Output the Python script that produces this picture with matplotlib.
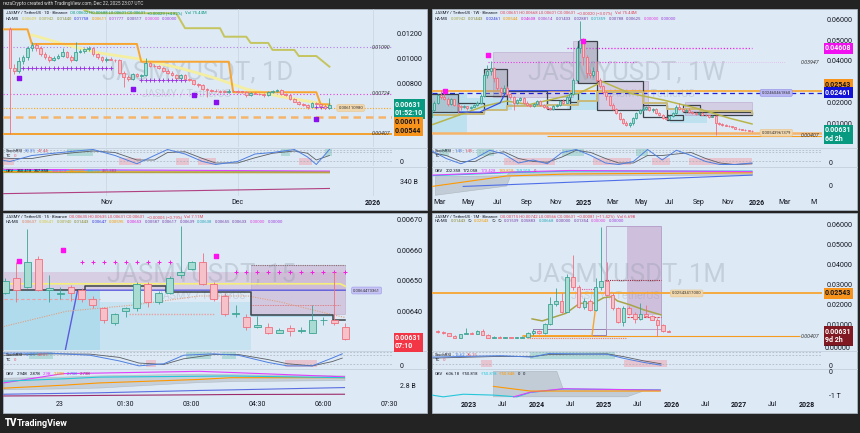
import numpy as np
import pandas as pd
import matplotlib
matplotlib.use("Agg")
import matplotlib.pyplot as plt
import matplotlib.dates as mdates
import matplotlib.transforms as mtrans
from matplotlib.patches import Rectangle

plt.rcParams["font.family"] = ["Roboto", "DejaVu Sans"]

# ---------------- 1D panel: daily candles from Oct 10 2025 (prices in 1e-5 USDT)
d1_start = "2025-10-10"
d1_open = [1230, 925, 905, 980, 1010, 1080, 1110, 1085, 1035, 1010, 985, 1008, 1020, 1050, 1015, 985, 1052, 1060,
           1072, 1080, 1032, 1012, 985, 1000, 992, 985, 885, 855, 840, 878, 865, 870, 962, 945, 940, 925, 905, 890,
           872, 850, 868, 840, 830, 800, 790, 762, 752, 745, 742, 740, 738, 745, 742, 740, 738, 712, 730, 725, 722,
           712, 738, 748, 752, 722, 712, 685, 662, 645, 635, 622, 648, 640, 628, 611]
d1_high = [1250, 960, 1010, 1030, 1100, 1130, 1125, 1095, 1050, 1025, 1020, 1035, 1080, 1060, 1025, 1130, 1075, 1085,
           1095, 1090, 1045, 1020, 1010, 1010, 1000, 995, 900, 870, 890, 885, 880, 1005, 975, 960, 950, 935, 915, 900,
           880, 880, 875, 850, 835, 810, 800, 770, 760, 760, 755, 750, 760, 752, 750, 748, 742, 740, 738, 732, 728,
           745, 755, 760, 758, 730, 718, 692, 668, 650, 640, 655, 655, 646, 634, 690]
d1_low = [407, 880, 890, 960, 990, 1060, 1060, 1020, 995, 975, 980, 1000, 1010, 1005, 975, 980, 1040, 1045, 1060,
          1020, 1000, 975, 975, 985, 975, 875, 780, 820, 830, 855, 850, 860, 935, 930, 915, 895, 880, 865, 840, 845,
          830, 820, 790, 780, 755, 700, 740, 735, 732, 730, 730, 735, 732, 730, 700, 708, 718, 715, 700, 705, 730,
          740, 715, 705, 675, 655, 638, 628, 600, 615, 635, 620, 605, 608]
d1_close = [925, 905, 980, 1010, 1080, 1110, 1085, 1035, 1010, 985, 1008, 1020, 1050, 1015, 985, 1052, 1060, 1072,
            1080, 1032, 1012, 985, 1000, 992, 985, 885, 855, 840, 878, 865, 870, 962, 945, 940, 925, 905, 890, 872,
            850, 868, 840, 830, 800, 790, 762, 752, 745, 742, 740, 738, 745, 742, 740, 738, 712, 730, 725, 722, 712,
            738, 748, 752, 722, 712, 685, 662, 645, 635, 622, 648, 640, 628, 611, 631]
# indicator lines (day offsets from d1_start, prices 1e-5)
d1_trail_day = [-2, 4, 5, 29, 30, 50, 51, 70, 71, 73]
d1_trail_val = [1230, 1230, 1115, 1115, 975, 975, 735, 735, 640, 640]
d1_upper_day = [17, 19, 38, 40, 48, 49, 54, 55, 59, 60, 65, 66, 70, 73]
d1_upper_val = [1380, 1357, 1357, 1239, 1239, 1172, 1172, 1123, 1123, 1068, 1068, 1020, 1020, 936]
d1_ma_day = [5, 13, 20, 29, 39, 47, 54, 62, 70, 73]
d1_ma_val = [1186, 1107, 1046, 1000, 924, 845, 760, 700, 653, 627]
d1_pivot_day = [2, 28, 42, 47, 70]
d1_pivot_val = [845, 758, 713, 661, 524]
d1_cross_rows = [(2, 23, 925, "#9b30e0"), (30, 40, 834, "#9b30e0"), (70, 73, 620, "#9b30e0")]
d1_stoch_day = [-2, 0, 5, 10, 15, 19, 24, 29, 33, 36, 40, 44, 47, 52, 56, 60, 65, 68, 70, 73]
d1_stoch_k = [30, 20, 60, 75, 90, 100, 60, 5, 60, 100, 70, 20, 0, 20, 70, 80, 100, 50, 0, 100]
d1_stoch_d = [45, 40, 40, 65, 80, 90, 80, 30, 30, 80, 85, 40, 10, 10, 45, 75, 90, 75, 30, 60]
d1_band_pink = [(-2, 1), (25, 30), (38, 41), (43, 47), (66, 69)]
d1_band_teal = [(13, 19), (62, 64), (72, 73.5)]
d1_obv_day = [-2, 73]
d1_obv_lines = {"#26c6da": [88, 84], "#e040fb": [92, 86], "#ff9800": [84, 82], "#b0a040": [81, 80],
                "#b04080": [8, 26]}

# ---------------- 1W panel: weekly candles from Feb 12 2024
w1_start = "2024-02-12"
w1_open = [1300, 1650, 2000, 2350, 2250, 2180, 1950, 2150, 1900, 1850, 1780, 1820, 1750, 1800, 1900, 2000, 2300,
           3300, 3500, 3650, 3200, 2700, 2500, 2700, 2400, 2250, 2000, 2100, 2200, 2000, 1900, 1850, 1950, 2050,
           1900, 1800, 1750, 1700,
           1850, 1900, 2050, 2000, 2250, 2400, 3100, 4600, 5000, 4200, 3400, 3300, 3500, 3100, 2800, 2500, 2300,
           1900, 1700, 1500, 1200, 1000, 900, 1000, 1250, 1500, 1650, 1700, 1800, 1650, 1700, 1500, 1400, 1250,
           1200, 1350, 1500, 1800, 1700, 1600, 1650, 1550, 1500, 1450, 1500, 1420, 1380, 1300, 1350, 1000, 950,
           900, 880, 850, 800, 740, 720, 700, 680, 650]
w1_high = [1700, 2050, 2400, 2620, 2560, 2250, 2200, 2180, 1980, 1900, 1900, 1850, 1850, 1950, 2050, 2400, 3400,
           3800, 4000, 3700, 3250, 2750, 2850, 2800, 2450, 2300, 2150, 2250, 2250, 2050, 1950, 2000, 2100, 2100,
           1950, 1850, 1800, 1900,
           1950, 2100, 2150, 2300, 2500, 3200, 4700, 5900, 5100, 4300, 3600, 3700, 4000, 3200, 2850, 2550, 2350,
           2000, 1750, 1550, 1250, 1100, 1050, 1300, 1550, 1700, 1850, 1850, 1850, 1750, 1750, 1550, 1450, 1300,
           1400, 1550, 1900, 2000, 1750, 1700, 1750, 1600, 1550, 1550, 1550, 1450, 1400, 1400, 1400, 1050, 1000,
           950, 900, 870, 820, 760, 740, 720, 700, 668]
w1_low = [1280, 1600, 1950, 2150, 2100, 1850, 1900, 1850, 1500, 1650, 1750, 1650, 1700, 1780, 1850, 1950, 2250,
          3200, 3300, 3000, 2600, 2300, 2450, 2350, 2150, 1650, 1950, 2050, 1950, 1850, 1800, 1800, 1900, 1850,
          1750, 1700, 1650, 1650,
          1800, 1850, 1950, 1980, 2200, 2350, 3000, 4400, 3800, 3200, 3200, 3250, 3000, 2700, 2400, 2100, 1850,
          1650, 1450, 1150, 950, 850, 840, 930, 1200, 1450, 1600, 1650, 1600, 1550, 1450, 1350, 1200, 1150, 1180,
          1300, 1450, 1650, 1550, 1550, 1500, 1450, 1400, 1400, 1400, 1350, 1250, 1280, 440, 900, 880, 850, 800,
          780, 720, 700, 660, 650, 630, 601]
w1_close = [1650, 2000, 2350, 2250, 2180, 1950, 2150, 1900, 1850, 1780, 1820, 1750, 1800, 1900, 2000, 2300, 3300,
            3500, 3650, 3200, 2700, 2500, 2700, 2400, 2250, 2000, 2100, 2200, 2000, 1900, 1850, 1950, 2050, 1900,
            1800, 1750, 1700, 1850,
            1900, 2050, 2000, 2250, 2400, 3100, 4600, 5000, 4200, 3400, 3300, 3500, 3100, 2800, 2500, 2300, 1900,
            1700, 1500, 1200, 1000, 900, 1000, 1250, 1500, 1650, 1700, 1800, 1650, 1700, 1500, 1400, 1250, 1200,
            1350, 1500, 1800, 1700, 1600, 1650, 1550, 1500, 1450, 1500, 1420, 1380, 1300, 1350, 1000, 950, 900,
            880, 850, 800, 740, 720, 700, 680, 650, 631]
w1_dark_boxes = [("2024-02-10", "2024-04-08", 1540, 2410), ("2024-04-08", "2024-06-04", 1540, 1970),
                 ("2024-06-04", "2024-07-21", 2300, 3600), ("2024-07-21", "2024-10-14", 1880, 2570),
                 ("2024-10-14", "2024-12-01", 1680, 2100), ("2024-12-01", "2024-12-18", 2040, 2460),
                 ("2024-12-18", "2025-01-28", 2940, 4970), ("2025-01-28", "2025-05-05", 1640, 3050),
                 ("2025-05-05", "2025-06-25", 1320, 1880), ("2025-06-25", "2025-07-29", 1160, 1400),
                 ("2025-07-29", "2025-09-03", 1540, 1880), ("2025-09-03", "2025-12-22", 1400, 1560)]
w1_dark_filled = [0, 2, 6]
w1_supply = [("2024-06-21", "2024-12-08", 2280, 4440), ("2024-12-08", "2025-01-28", 2940, 4970),
             ("2025-01-28", "2025-05-16", 1640, 3050), ("2025-08-02", "2025-12-22", 1400, 2040)]
w1_demand = [("2024-02-10", "2024-04-27", 500, 2460), ("2024-04-27", "2024-08-01", 1640, 2200),
             ("2024-11-25", "2025-02-03", 1640, 2460), ("2025-07-01", "2025-09-18", 1010, 1640)]
w1_ma_date = ["2024-02-14", "2024-06-04", "2024-07-21", "2024-09-07", "2024-12-22", "2025-02-09", "2025-04-08",
              "2025-06-17", "2025-08-28", "2025-11-05", "2025-12-22"]
w1_ma_val = [930, 1830, 2070, 1900, 2460, 3000, 2440, 2120, 1720, 1240, 970]
w1_step_date = ["2024-02-14", "2024-04-12", "2024-06-04", "2024-07-21", "2024-10-14", "2024-12-18", "2025-01-28",
                "2025-05-05", "2025-06-25", "2025-09-03", "2025-12-22"]
w1_step_val = [1410, 1450, 1650, 1850, 1900, 2050, 2500, 2000, 1700, 1600, 1450]
w1_blue_date = ["2024-04-12", "2024-05-25", "2024-07-07", "2024-07-21", "2024-12-01"]
w1_blue_val = [1540, 1540, 1980, 2570, 2570]
w1_pivot_date = ["2024-03-13", "2024-06-12", "2024-12-30"]
w1_pivot_val = [2550, 4270, 4960]
w1_stoch_date = ["2024-02-14", "2024-03-15", "2024-04-15", "2024-05-15", "2024-06-15", "2024-07-15", "2024-08-15",
                 "2024-09-15", "2024-10-15", "2024-11-15", "2024-12-15", "2025-01-15", "2025-02-15", "2025-03-15",
                 "2025-04-15", "2025-05-15", "2025-06-15", "2025-07-15", "2025-08-15", "2025-09-15", "2025-10-15",
                 "2025-11-15", "2025-12-22"]
w1_stoch_k = [90, 40, 5, 40, 95, 70, 10, 30, 5, 80, 100, 60, 10, 0, 20, 100, 30, 95, 60, 20, 0, 0, 10]
w1_stoch_d = [80, 60, 20, 20, 70, 85, 40, 20, 15, 50, 95, 80, 40, 10, 10, 60, 60, 70, 80, 40, 10, 0, 5]
w1_band_pink = [("2024-07-15", "2024-10-31"), ("2025-01-20", "2025-04-10"), ("2025-05-25", "2025-07-01"),
                ("2025-08-10", "2025-12-22")]
w1_band_teal = [("2024-03-01", "2024-03-20"), ("2024-05-20", "2024-06-25"), ("2024-11-15", "2024-12-31"),
                ("2025-04-20", "2025-05-15")]
w1_obv_band_date = ["2024-02-20", "2024-07-20", "2024-07-28", "2025-12-22"]
w1_obv_band_hi = [68, 72, 86, 84]
w1_obv_band_lo = [4, 36, 70, 74]
w1_obv_date = ["2024-02-14", "2024-07-21", "2024-12-01", "2025-12-22"]
w1_obv_lines = {"#ff9800": [33, 69, 76, 80], "#26c6da": [70, 80, 86, 86], "#e040fb": [72, 82, 88, 84]}
w1_obv_blue_date = ["2024-04-20", "2025-12-22"]
w1_obv_blue = [33, 72]

# ---------------- 15m panel (prices in 1e-6 USDT)
m15_start = "2025-12-22 22:45"
m15_open = [6460, 6510, 6480, 6570, 6470, 6455, 6480, 6470, 6440, 6410, 6360, 6400, 6410, 6490, 6430, 6460, 6520,
            6540, 6560, 6490, 6450, 6390, 6380, 6350, 6350, 6330, 6345, 6335, 6330, 6370, 6372, 6350]
m15_high = [6510, 6560, 6670, 6580, 6520, 6480, 6485, 6475, 6450, 6415, 6395, 6415, 6495, 6495, 6465, 6515, 6680,
            6565, 6590, 6495, 6460, 6420, 6390, 6385, 6360, 6345, 6355, 6350, 6420, 6380, 6530, 6360]
m15_low = [6455, 6430, 6475, 6465, 6430, 6440, 6435, 6430, 6410, 6360, 6355, 6380, 6400, 6415, 6425, 6455, 6510,
           6535, 6485, 6435, 6385, 6380, 6340, 6345, 6325, 6328, 6320, 6330, 6328, 6355, 6355, 6305]
m15_close = [6500, 6470, 6560, 6470, 6475, 6460, 6460, 6440, 6420, 6370, 6390, 6410, 6490, 6430, 6460, 6510, 6530,
             6560, 6490, 6440, 6390, 6395, 6350, 6355, 6330, 6340, 6335, 6338, 6370, 6372, 6362, 6310]
m15_yellow_t = ["22:43", "06:23", "06:30"]
m15_yellow = [6490, 6490, 6482]
m15_indigo_t = ["00:07", "00:24", "06:30"]
m15_indigo = [6270, 6469, 6469]
m15_step_t = ["22:43", "00:34", "00:34", "02:25", "02:25", "04:21", "04:21", "06:13", "06:13", "06:30"]
m15_step = [6469, 6469, 6482, 6482, 6462, 6462, 6389, 6389, 6370, 6370]
m15_ma_t = ["22:43", "00:09", "01:39", "03:10", "04:17", "05:02", "06:10", "06:29"]
m15_ma = [6350, 6400, 6420, 6450, 6450, 6430, 6390, 6380]
m15_pivot_t = ["23:04", "00:04", "03:33"]
m15_pivot = [6565, 6600, 6580]
m15_stoch_t = ["22:43", "23:46", "00:41", "01:21", "01:48", "02:22", "02:49", "03:30", "04:04", "04:44", "05:11",
               "05:45", "06:12", "06:26"]
m15_stoch_k = [95, 95, 80, 40, 5, 20, 80, 90, 80, 30, 5, 5, 60, 90]
m15_stoch_d = [80, 90, 88, 65, 25, 15, 55, 85, 85, 50, 20, 5, 35, 60]
m15_obv_t = ["22:43", "00:04", "00:54", "03:10", "03:54", "06:29"]
m15_obv_lines = {"#e040fb": [52, 84, 86, 92, 88, 73], "#ff9800": [34, 44, 52, 64, 70, 70],
                 "#26c6da": [58, 66, 72, 75, 76, 70], "#5b6ee1": [13, 16, 18, 26, 28, 36],
                 "#9c2a6a": [7, 8, 9, 11, 12, 13]}
m15_obv_hi = [70, 74, 78, 84, 82, 78]
m15_obv_lo = [30, 33, 36, 55, 58, 62]

# ---------------- 1M panel: monthly candles from Jul 2022 (prices in 1e-5 USDT)
mo_start = "2022-07-01"
mo_open = [650, 600, 550, 440, 320, 520, 580, 540, 670, 470, 340, 380, 340, 350, 330, 340, 380, 550, 670, 560, 1000,
           2000, 2170, 1630, 3380, 2880, 1880, 2170, 1720, 2880, 3170, 2470, 1800, 1100, 1800, 1500, 1270, 1500,
           1400, 1220, 970, 670]
mo_high = [720, 680, 580, 470, 540, 800, 620, 700, 780, 500, 420, 400, 380, 370, 360, 400, 600, 780, 720, 1050, 2380,
           2800, 2550, 3500, 4470, 2980, 2300, 2250, 3300, 5880, 4130, 2550, 1850, 1900, 1900, 1600, 2050, 1970,
           1450, 1300, 1020, 720]
mo_low = [560, 520, 420, 300, 300, 500, 520, 500, 460, 320, 320, 300, 320, 320, 320, 330, 370, 480, 520, 540, 950,
          1900, 1550, 1600, 2700, 1800, 1750, 1650, 1650, 2700, 2400, 1700, 1050, 900, 1450, 1050, 1200, 1350, 1200,
          400, 640, 600]
mo_close = [600, 550, 440, 320, 520, 580, 540, 670, 470, 340, 380, 340, 350, 330, 340, 380, 550, 670, 560, 1000,
            2000, 2170, 1630, 3380, 2880, 1880, 2170, 1720, 2880, 3170, 2470, 1800, 1100, 1800, 1500, 1270, 1500,
            1400, 1220, 970, 670, 631]
mo_ma_date = ["2023-12-08", "2024-02-01", "2024-06-08", "2024-08-21", "2024-11-03", "2024-12-29", "2025-02-14",
              "2025-03-13", "2025-05-22", "2025-08-04", "2025-11-04"]
mo_ma_val = [1270, 1170, 1550, 2050, 2050, 2330, 2380, 2170, 1970, 1720, 1470]
mo_orange_date = ["2023-10-21", "2024-10-27", "2024-11-17"]
mo_orange_val = [430, 430, 1970]
mo_stoch_date = ["2022-06-20", "2023-06-23", "2023-12-08", "2024-03-07", "2025-01-16", "2025-04-16", "2025-08-04",
                 "2025-11-04"]
mo_stoch_k = [67, 77, 67, 92, 87, 58, 29, 10]
mo_stoch_d = [60, 72, 70, 85, 90, 70, 40, 20]
mo_band_teal = [("2023-11-28", "2025-03-01")]
mo_band_pink = [("2023-03-09", "2023-05-03"), ("2025-04-16", "2025-12-05")]
mo_obv_poly_date = ["2023-05-13", "2024-04-20", "2024-05-26", "2025-10-31", "2025-10-31", "2025-08-01",
                    "2025-05-04", "2023-05-13"]
mo_obv_poly_val = [92, 92, 28, 28, 24, 24, 4, 4]
mo_obv_cyan_date = ["2022-06-15", "2022-08-15", "2022-12-01", "2023-05-13", "2023-09-17", "2023-11-28",
                    "2024-05-26", "2025-10-31"]
mo_obv_cyan = [10, 4, 13, 10, 4, 19, 31, 28]
mo_obv_mag_date = ["2023-08-30", "2023-11-28", "2024-05-26", "2025-10-31"]
mo_obv_mag = [4, 20, 32, 27]
mo_obv_orange_date = ["2023-05-13", "2023-11-28", "2025-10-31"]
mo_obv_orange = [40, 24, 24]

# ---------------- styling
W, H = 860, 433
BG = "#dde9f5"
TXT = "#131722"
UP_F, UP_E = "#a8dcd3", "#3aa394"
DN_F, DN_E = "#f6c1c8", "#ef6f7e"

fig = plt.figure(figsize=(8.6, 4.33), dpi=100, facecolor="#232323")


def px_axes(x0, y0, x1, y1):
    ax = fig.add_axes([x0 / W, 1 - y1 / H, (x1 - x0) / W, (y1 - y0) / H])
    ax.set_facecolor("none")
    for sp in ax.spines.values():
        sp.set_visible(False)
    ax.tick_params(length=0, labelsize=5, colors=TXT, pad=2)
    ax.set_xticks([])
    ax.set_yticks([])
    return ax


def ftext(x, y, s, **kw):
    kw.setdefault("va", "center")
    return fig.text(x / W, 1 - y / H, s, **kw)


def panel(x0, y0, x1, y1, cuts):
    fig.add_artist(Rectangle((x0 / W, 1 - y1 / H), (x1 - x0) / W, (y1 - y0) / H, transform=fig.transFigure,
                             facecolor=BG, edgecolor="#aab6c2", lw=0.6, zorder=-1))
    xr = x1 - 35
    for c in cuts[:2]:
        fig.add_artist(plt.Line2D([x0 / W, x1 / W], [1 - (c + 0.5) / H] * 2, color="#c3cfdb", lw=0.6, zorder=-1))
    pr = px_axes(x0, y0, xr, cuts[0])
    st = px_axes(x0, cuts[0] + 1, xr, cuts[1])
    ob = px_axes(x0, cuts[1] + 1, xr, cuts[2])
    pr.yaxis.tick_right()
    st.set_ylim(-10, 110)
    ob.set_ylim(0, 100)
    return pr, st, ob


def candles(ax, x, o, h, l, c, width, unit, minh):
    o, h, l, c = (np.asarray(v, float) * unit for v in (o, h, l, c))
    up = c >= o
    edge = np.where(up, UP_E, DN_E)
    ax.vlines(x, l, h, colors=edge, lw=0.6, zorder=5)
    ax.bar(x, np.maximum(np.abs(c - o), minh), width, bottom=np.minimum(o, c), color=np.where(up, UP_F, DN_F),
           edgecolor=edge, lw=0.6, zorder=6)


def box(ax, x0, x1, y0, y1, fc, ec="none", lw=0.8, alpha=1.0, z=2):
    ax.add_patch(Rectangle((x0, y0), x1 - x0, y1 - y0, facecolor=fc, edgecolor=ec, lw=lw, alpha=alpha, zorder=z))


def tag(ax, price, text, fc, dy=0, tc="white", fs=5.0):
    tr = mtrans.blended_transform_factory(ax.transAxes, ax.transData)
    ax.annotate(text, xy=(1, price), xycoords=tr, xytext=(2.2, dy), textcoords="offset points", fontsize=fs,
                color=tc, fontweight="bold", va="center", ha="left", linespacing=1.05, annotation_clip=False,
                bbox=dict(boxstyle="square,pad=0.22", fc=fc, ec="none"), zorder=30)


def line_note(ax, xfrac, price, text, fs=3.8, **kw):
    tr = mtrans.blended_transform_factory(ax.transAxes, ax.transData)
    ax.text(xfrac, price, text, transform=tr, fontsize=fs, va="center", ha="left", color="#333", zorder=25, **kw)


def badge(ax, xfrac, price, text, fc, ec):
    tr = mtrans.blended_transform_factory(ax.transAxes, ax.transData)
    ax.text(xfrac, price, text, transform=tr, fontsize=3.0, va="center", ha="left", color="#333", zorder=25,
            bbox=dict(boxstyle="round,pad=0.35", fc=fc, ec=ec, lw=0.4))


def legend(x, y, pieces, fs=3.1):
    r = fig.canvas.get_renderer()
    for s, col in pieces:
        t = ftext(x, y, s, fontsize=fs, color=col, ha="left")
        x += t.get_window_extent(r).width + 2.2


def xaxis(ax, ticks, labels, grid_axes):
    ax.set_xticks(ticks)
    ax.set_xticklabels(labels)
    for t, lab in zip(ax.get_xticklabels(), labels):
        if lab.isdigit() and len(lab) == 4:
            t.set_fontweight("bold")
    for g in grid_axes:
        for v in ticks:
            g.axvline(v, color="#c8d4e0", lw=0.5, zorder=0)


def watermark(ax, title, fx, fy, fs, sub_dx=0.01):
    ax.text(fx, fy, title, transform=ax.transAxes, fontsize=fs, color="#8f9aa6", alpha=0.32, ha="center",
            va="center", zorder=1)
    ax.text(fx + sub_dx, fy - 0.15, "JASMY / TetherUS", transform=ax.transAxes, fontsize=fs * 0.42,
            color="#8f9aa6", alpha=0.3, ha="center", va="center", zorder=1)


def stoch(ax, x, k, d, pink, teal):
    for a, b in pink:
        ax.fill_between([a, b], -5, 45, color="#f19aa6", alpha=0.45, lw=0, zorder=1)
    for a, b in teal:
        ax.fill_between([a, b], 55, 105, color="#7cc6bb", alpha=0.45, lw=0, zorder=1)
    for lv in (100, 80, 20):
        ax.axhline(lv, color="#9aa4ae", lw=0.4, ls=(0, (3, 3)), zorder=2)
    ax.plot(x, k, color="#4f7fe0", lw=0.7, zorder=4)
    ax.plot(x, d, color="#5a5f66", lw=0.6, zorder=3)


header = "rezaCrypto created with TradingView.com, Dec 22, 2025 23:07 UTC"
ftext(3, 4, header, fontsize=3.4, color="#d8d8d8", ha="left")

# ================= panel 1: 1D =================
pr, st, ob = panel(3, 9, 427, 210, (147, 166, 196))
t0 = mdates.date2num(pd.Timestamp(d1_start))
dx = t0 + np.arange(len(d1_close))
u = 1e-5
for a in (pr, st, ob):
    a.set_xlim(t0 - 1.6, t0 + 87.3)
pr.set_ylim(0.00304, 0.0139)
candles(pr, dx, d1_open, d1_high, d1_low, d1_close, 0.62, u, 0.00003)
pr.plot(t0 + np.array(d1_upper_day), np.array(d1_upper_val) * u, color="#c5c55f", lw=1.4, zorder=3)
pr.plot(t0 + np.array(d1_ma_day), np.array(d1_ma_val) * u, color="#f4efa0", lw=2.0, zorder=3)
pr.plot(t0 + np.array(d1_trail_day), np.array(d1_trail_val) * u, color="#f7a530", lw=1.4, zorder=4)
pr.axhline(0.01090, color="#b77ef0", lw=0.8, ls=(0, (1, 2)), zorder=2)
pr.axhline(0.00724, color="#e040e0", lw=0.8, ls=(0, (1, 2)), zorder=2)
pr.axhline(0.00611, color="#f5a623", lw=0.8, ls=(0, (1, 1.5)), zorder=2)
pr.axhline(0.00544, color="#f5b46a", lw=1.8, ls=(0, (3, 2)), zorder=2)
pr.axhline(0.00407, color="#f59b1e", lw=1.3, zorder=2)
for a, b, v, col in d1_cross_rows:
    sel = dx[(dx >= t0 + a) & (dx <= t0 + b)]
    pr.plot(sel, np.full(len(sel), v * u), ls=(0, (1, 1.5)), lw=0.6, color=col, marker="+", ms=2.5, mew=0.6,
            zorder=3)
pr.scatter(t0 + np.array(d1_pivot_day), np.array(d1_pivot_val) * u, s=7, marker="s", color="#8a10f0", zorder=7)
watermark(pr, "JASMYUSDT, 1D", 0.5, 0.54, 18.5, sub_dx=-0.03)
pr.set_yticks([0.012, 0.010, 0.008])
pr.set_yticklabels(["0.01200", "0.01000", "0.00800"])
pr.tick_params(axis="y", labelsize=5.2, pad=3)
line_note(pr, 0.947, 0.01090, "0.01090", style="italic")
line_note(pr, 0.947, 0.00724, "0.00724", style="italic")
line_note(pr, 0.947, 0.00407, "0.00407", style="italic")
badge(pr, 0.862, 0.00611, "0.006110980", "#f1d7ad", "#e9c48a")
tag(pr, 0.00631, "0.00631\n01:52:10", "#089981", dy=-2.6)
tag(pr, 0.00544, "0.00611\n0.00544", "#f7931a", dy=-7.2, tc=TXT)
stoch(st, t0 + np.array(d1_stoch_day), d1_stoch_k, d1_stoch_d,
      [(t0 + a, t0 + b) for a, b in d1_band_pink], [(t0 + a, t0 + b) for a, b in d1_band_teal])
for col, vals in d1_obv_lines.items():
    ob.plot(t0 + np.array(d1_obv_day), vals, color=col, lw=0.8)
xaxis(ob, mdates.date2num(pd.to_datetime(["2025-11-01", "2025-12-01", "2026-01-01"])), ["Nov", "Dec", "2026"],
      [pr, st, ob])
ftext(400, 163, "0", fontsize=5, color=TXT, ha="left")
ftext(400, 182, "340 B", fontsize=5, color=TXT, ha="left")
legend(6, 13.5, [("JASMY / TetherUS · 1D · Binance", TXT), ("O0.00602 H0.00688 L0.00601 C0.00631", "#089981"),
                 ("+0.00029 (+4.82%)", "#089981"), ("Vol 75.44M", "#089981")])
legend(6, 18.8, [("HA-MS", TXT), ("0.00609", "#d8c840"), ("0.00942", "#a8a840"), ("0.01440", "#8a8a30"),
                 ("0.01758", "#3b3bdb"), ("0.00611", "#f59b00"), ("0.01777", "#b040d0"), ("0.00517", "#7744aa"),
                 ("0.00000", "#e040e0"), ("0.00000", "#a040e0")])
legend(6, 151, [("StochRSI", TXT), ("80.35", "#4f7fe0"), ("47.44", "#e0586c")])
legend(6, 156, [("TC", TXT), ("-0", "#e0586c")])
legend(6, 171, [("OBV", TXT), ("340.418", TXT), ("347.858", TXT), ("340.418", "#e040fb"), ("348.029", "#ff9800"),
                ("338.73", "#26c6da"), ("331.383", "#b04080")])

# ================= panel 2: 1W =================
pr, st, ob = panel(432, 9, 857, 210, (147, 166, 196))
wd = mdates.date2num(pd.date_range(w1_start, periods=len(w1_close), freq="7D"))
xl = mdates.date2num(pd.to_datetime(["2024-02-14", "2026-05-19"]))
for a in (pr, st, ob):
    a.set_xlim(*xl)
pr.set_ylim(-0.00139, 0.06495)
dn = lambda s: mdates.date2num(pd.to_datetime(s))
for a, b, lo, hi in w1_demand:
    box(pr, dn(a), dn(b), lo * u, hi * u, "#a9dcec", alpha=0.6, z=1)
for a, b, lo, hi in w1_supply:
    box(pr, dn(a), dn(b), lo * u, hi * u, "#cdb8d8", ec="#b39ac6", lw=0.6, alpha=0.55, z=1)
for i, (a, b, lo, hi) in enumerate(w1_dark_boxes):
    if i in w1_dark_filled:
        box(pr, dn(a), dn(b), lo * u, hi * u, "#8f9ba4", alpha=0.4, z=3)
    box(pr, dn(a), dn(b), lo * u, hi * u, "none", ec="#3c4248", lw=0.9, z=3)
pr.axhline(0.02543, color="#f7a530", lw=1.2, zorder=2)
pr.axhline(0.02461, color="#1f1fd6", lw=0.9, ls=(0, (4, 3)), zorder=2)
pr.axhline(0.00544, color="#f5b46a", lw=1.8, zorder=2)
pr.hlines(0.00407, dn("2024-10-14"), xl[1], color="#f59b1e", lw=0.8, zorder=2)
pr.hlines(0.04608, dn("2024-11-25"), dn("2025-12-22"), color="#ee22ee", lw=0.9, ls=(0, (1, 1.5)), zorder=2)
pr.hlines(0.03947, dn("2024-06-12"), dn("2025-04-20"), color="#e040e0", lw=0.8, ls=(0, (1, 1.5)), zorder=2)
pr.hlines(0.03947, dn("2025-04-20"), dn("2026-03-01"), color="#e8a0e8", lw=0.5, ls=(0, (1, 2)), zorder=2)
pr.plot(dn(w1_step_date), np.array(w1_step_val) * u, color="#c9b97a", lw=1.4, drawstyle="steps-post", zorder=3)
pr.plot(dn(w1_ma_date), np.array(w1_ma_val) * u, color="#b7b54a", lw=1.1, zorder=3)
pr.plot(dn(w1_blue_date), np.array(w1_blue_val) * u, color="#3550e8", lw=0.9, zorder=3)
candles(pr, wd, w1_open, w1_high, w1_low, w1_close, 4.2, u, 0.0002)
pr.scatter(dn(w1_pivot_date), np.array(w1_pivot_val) * u, s=7, marker="s", color="#ff10f0", zorder=7)
watermark(pr, "JASMYUSDT, 1W", 0.5, 0.54, 18.5, sub_dx=0.06)
pr.set_yticks([0.06, 0.05, 0.04, 0.02, 0.01])
pr.set_yticklabels(["0.06000", "0.05000", "0.04000", "0.02000", "0.01000"])
pr.tick_params(axis="y", labelsize=5.2, pad=3)
line_note(pr, 0.945, 0.03947, "0.03947", style="italic")
line_note(pr, 0.945, 0.00407, "0.00407", style="italic")
badge(pr, 0.845, 0.02461, "0.02460461860", "#b9b7f3", "#8f8ce8")
badge(pr, 0.845, 0.00544, "0.00543961379", "#f1d7ad", "#e9c48a")
tag(pr, 0.04608, "0.04608", "#f010f0")
tag(pr, 0.02543, "0.02543", "#f7931a", dy=4.6, tc=TXT)
tag(pr, 0.02461, "0.02461", "#1212d8")
tag(pr, 0.00631, "0.00631\n6d 2h", "#089981", dy=-2.6)
stoch(st, dn(w1_stoch_date), w1_stoch_k, w1_stoch_d, [(dn(a), dn(b)) for a, b in w1_band_pink],
      [(dn(a), dn(b)) for a, b in w1_band_teal])
ob.fill_between(dn(w1_obv_band_date), w1_obv_band_lo, w1_obv_band_hi, color="#a8b0b8", alpha=0.5, lw=0.4,
                edgecolor="#8e969e")
for col, vals in w1_obv_lines.items():
    ob.plot(dn(w1_obv_date), vals, color=col, lw=0.8)
ob.plot(dn(w1_obv_blue_date), w1_obv_blue, color="#4f6fe8", lw=0.8)
w_ticks = ["2024-03-01", "2024-05-01", "2024-07-01", "2024-09-01", "2024-11-01", "2025-01-01", "2025-03-01",
           "2025-05-01", "2025-07-01", "2025-09-01", "2025-11-01", "2026-01-01", "2026-03-01", "2026-05-01"]
w_labels = ["Mar", "May", "Jul", "Sep", "Nov", "2025", "Mar", "May", "Jul", "Sep", "Nov", "2026", "Mar", "M"]
xaxis(ob, dn(w_ticks), w_labels, [])
ftext(829, 163.5, "0", fontsize=5, color=TXT, ha="left")
ftext(829, 187, "0", fontsize=5, color=TXT, ha="left")
legend(435, 13.5, [("JASMY / TetherUS · 1W · Binance", TXT), ("O0.00651 H0.00668 L0.00601 C0.00631", "#e0475a"),
                   ("−0.00020 (−3.07%)", "#e0475a"), ("Vol 75.44M", "#e0475a")])
legend(435, 18.8, [("HA-MS", TXT), ("0.00942", "#a8a840"), ("0.01443", "#8a8a30"), ("0.02461", "#3b3bdb"),
                   ("0.00544", "#f59b00"), ("0.04608", "#e020e0"), ("0.00614", "#b040d0"), ("0.01433", "#7744aa"),
                   ("0.02881", "#7744aa"), ("0.01359", "#26a6ba"), ("0.00788", "#7744aa"), ("0.00625", "#7744aa"),
                   ("0.00000", "#e040e0"), ("0.00000", "#a040e0")])
legend(435, 151, [("StochRSI", TXT), ("1.45", "#4f7fe0"), ("1.45", "#e0586c")])
legend(435, 156, [("TC", TXT)])
legend(435, 171, [("OBV", TXT), ("202.358", TXT), ("172.058", TXT), ("173.428", "#e040fb"),
                  ("183.818", "#ff9800"), ("169.918", "#26c6da"), ("0", "#b04080")])

# ================= panel 3: 15m =================
pr, st, ob = panel(3, 213, 427, 413, (350, 368, 398))
mt = mdates.date2num(pd.date_range(m15_start, periods=len(m15_close), freq="15min"))


def tnum(hhmm):
    out = []
    for s in hhmm:
        day = "2025-12-22 " if int(s[:2]) >= 12 else "2025-12-23 "
        out.append(mdates.date2num(pd.Timestamp(day + s)))
    return np.array(out)


u6 = 1e-6
xl = tnum(["22:42", "07:34"])
for a in (pr, st, ob):
    a.set_xlim(*xl)
pr.set_ylim(0.006273, 0.006722)
x0, x1 = tnum(["22:43", "06:30"])
box(pr, x0, x1, 0.00647, 0.00653, "#d7c3dc", alpha=0.7, z=1)
box(pr, *tnum(["04:21", "06:30"]), 0.00639, 0.00655, "#c9b3d2", ec="#b59cc4", lw=0.5, alpha=0.6, z=1)
box(pr, *tnum(["22:43", "00:54"]), 0.00620, 0.00647, "#a5d8ec", alpha=0.8, z=1)
box(pr, *tnum(["00:54", "04:21"]), 0.00620, 0.00643, "#c2e2f0", alpha=0.8, z=1)
box(pr, *tnum(["04:21", "06:13"]), 0.00638, 0.00639, "#a5d8ec", alpha=0.8, z=1)
pr.plot(tnum(m15_yellow_t), np.array(m15_yellow) * u6, color="#f5ef7a", lw=1.2, zorder=3)
pr.plot(tnum(m15_indigo_t), np.array(m15_indigo) * u6, color="#5b5bdc", lw=1.0, zorder=3)
pr.plot(tnum(m15_step_t), np.array(m15_step) * u6, color="#3c4248", lw=1.1, zorder=4)
pr.plot(tnum(m15_ma_t), np.array(m15_ma) * u6, color="#e0a080", lw=0.8, ls=(0, (1, 1.2)), zorder=3)
pr.hlines(0.00644, *tnum(["22:43", "00:54"]), color="#e8a0a0", lw=0.8, ls=(0, (3, 2)), zorder=2)
pr.hlines(0.00639, *tnum(["01:35", "03:32"]), color="#e8a0a0", lw=1.0, ls=(0, (1, 1)), zorder=2)
pr.hlines(0.00655, *tnum(["04:21", "06:30"]), color="#8a7070", lw=0.8, ls=(0, (1, 1)), zorder=2)
pr.hlines(0.00642, *tnum(["04:21", "06:23"]), color="#e06a6a", lw=0.6, ls=(0, (1, 1)), zorder=2)
for a, b, v in [("00:24", "02:43", 0.00656), ("03:50", "06:30", 0.00653)]:
    sel = mt[(mt >= tnum([a])[0]) & (mt <= tnum([b])[0])]
    pr.plot(sel, np.full(len(sel), v), ls="none", marker="+", ms=2.5, mew=0.7, color="#f020e0", zorder=3)
candles(pr, mt, m15_open, m15_high, m15_low, m15_close, 0.0066, u6, 0.000002)
pr.scatter(tnum(m15_pivot_t), np.array(m15_pivot) * u6, s=7, marker="s", color="#ff10f0", zorder=7)
watermark(pr, "JASMYUSDT, 15", 0.51, 0.55, 18.5, sub_dx=0.0)
pr.set_yticks([0.0067, 0.0066, 0.0065, 0.0064])
pr.set_yticklabels(["0.00670", "0.00660", "0.00650", "0.00640"])
pr.tick_params(axis="y", labelsize=5.2, pad=3)
badge(pr, 0.9, 0.006468, "0.0064473361", "#c7c4f4", "#9a96ea")
tag(pr, 0.00631, "0.00631\n07:10", "#f23645", dy=-2.6)
stoch(st, tnum(m15_stoch_t), m15_stoch_k, m15_stoch_d,
      [tuple(tnum(p)) for p in (["01:58", "02:11"], ["05:07", "05:52"])],
      [tuple(tnum(p)) for p in (["23:17", "23:50"], ["02:52", "03:26"], ["03:41", "04:00"])])
ob.fill_between(tnum(m15_obv_t), m15_obv_lo, m15_obv_hi, color="#a8b0b8", alpha=0.45, lw=0.4, edgecolor="#8e969e")
for col, vals in m15_obv_lines.items():
    ob.plot(tnum(m15_obv_t), vals, color=col, lw=0.8)
xaxis(ob, tnum(["00:00", "01:30", "03:00", "04:30", "06:00", "07:30"]),
      ["23", "01:30", "03:00", "04:30", "06:00", "07:30"], [])
ftext(400, 367, "0", fontsize=5, color=TXT, ha="left")
ftext(400, 387, "2.8 B", fontsize=5, color=TXT, ha="left")
legend(6, 217.5, [("JASMY / TetherUS · 15 · Binance", TXT), ("O0.00635 H0.00635 L0.00631 C0.00631", "#e0475a"),
                  ("−0.00005 (−0.79%)", "#e0475a"), ("Vol 7.11M", "#e0475a")])
legend(6, 222, [("HA-MS", TXT), ("0.00637", "#e08060"), ("0.00641", "#d8c840"), ("0.00940", "#a8a840"),
                ("0.01443", "#8a8a30"), ("0.00647", "#3b3bdb"), ("0.00595", "#f59b00"), ("0.00653", "#e020e0"),
                ("0.00587", "#7744aa"), ("0.00617", "#7744aa"), ("0.00639", "#7744aa"), ("0.00638", "#26a6ba"),
                ("0.00655", "#7744aa"), ("0.00633", "#7744aa"), ("0.00000", "#e040e0"), ("0.00000", "#a040e0")])
legend(6, 355, [("StochRSI", TXT), ("92.35", "#4f7fe0"), ("49.01", "#e0586c")])
legend(6, 360, [("TC", TXT), ("0", "#e0586c")])
legend(6, 374, [("OBV", TXT), ("2.94B", TXT), ("2.87B", TXT), ("2.9B", "#e040fb"), ("2.89B", "#ff9800"),
                ("2.75B", "#4f6fe8"), ("2.73B", "#9c2a6a")])

# ================= panel 4: 1M =================
pr, st, ob = panel(432, 213, 857, 413, (350, 368, 398))
md = mdates.date2num(pd.date_range(mo_start, periods=len(mo_close), freq="MS") + pd.Timedelta(days=14))
xl = mdates.date2num(pd.to_datetime(["2022-06-15", "2028-03-23"]))
for a in (pr, st, ob):
    a.set_xlim(*xl)
pr.set_ylim(-0.00285, 0.06565)
box(pr, dn("2023-12-14"), dn("2025-01-12"), 0.0047, 0.0077, "none", ec="#9a7fb0", lw=0.7, z=2)
box(pr, dn("2025-01-12"), dn("2025-11-05"), 0.0075, 0.0592, "none", ec="#b9a3cc", lw=0.7, z=2)
box(pr, dn("2025-05-05"), dn("2025-11-05"), 0.0147, 0.0592, "#c9b2d6", alpha=0.75, z=1)
pr.axhline(0.02543, color="#f7a530", lw=1.3, zorder=2)
pr.hlines(0.00407, dn("2023-10-21"), dn("2027-11-26"), color="#f59b1e", lw=0.8, zorder=2)
pr.hlines(0.0034, dn("2023-11-12"), dn("2025-05-05"), color="#f07a5a", lw=0.8, ls=(0, (1, 1)), zorder=2)
pr.hlines(0.0320, dn("2025-01-06"), dn("2025-11-05"), color="#9a2a3a", lw=0.8, ls=(0, (1, 1)), zorder=2)
pr.hlines(0.0277, dn("2024-08-08"), dn("2024-11-24"), color="#e060a0", lw=0.8, ls=(0, (1, 1)), zorder=2)
pr.hlines(0.0138, dn("2025-05-05"), dn("2025-11-05"), color="#e04050", lw=0.8, ls=(0, (2, 1)), zorder=2)
pr.plot(dn(mo_orange_date), np.array(mo_orange_val) * u, color="#f7a530", lw=1.0, zorder=3)
pr.plot(dn(mo_ma_date), np.array(mo_ma_val) * u, color="#a8a448", lw=1.1, zorder=3)
candles(pr, md, mo_open, mo_high, mo_low, mo_close, 19, u, 0.0002)
watermark(pr, "JASMYUSDT, 1M", 0.5, 0.55, 18.5, sub_dx=-0.03)
pr.set_yticks([0.06, 0.05, 0.04, 0.03, 0.02, 0.01])
pr.set_yticklabels(["0.06000", "0.05000", "0.04000", "0.03000", "0.02000", "0.01000"])
pr.tick_params(axis="y", labelsize=5.2, pad=3)
line_note(pr, 0.945, 0.00407, "0.00407", style="italic")
badge(pr, 0.615, 0.02543, "0.02543417000", "#f1d7ad", "#e9c48a")
tag(pr, 0.02543, "0.02543", "#f7931a", tc=TXT)
tag(pr, 0.00631, "0.00631\n9d 2h", "#801922", dy=-3.0)
ftext(825, 348, "0.00000", fontsize=5.2, color=TXT, ha="left")
stoch(st, dn(mo_stoch_date), mo_stoch_k, mo_stoch_d, [(dn(a), dn(b)) for a, b in mo_band_pink],
      [(dn(a), dn(b)) for a, b in mo_band_teal])
ob.fill(dn(mo_obv_poly_date), mo_obv_poly_val, color="#a8b0b8", alpha=0.5, lw=0.4, edgecolor="#8e969e")
ob.plot(dn(mo_obv_cyan_date), mo_obv_cyan, color="#26c6da", lw=0.8)
ob.plot(dn(mo_obv_mag_date), mo_obv_mag, color="#e040fb", lw=0.8)
ob.plot(dn(mo_obv_orange_date), mo_obv_orange, color="#ff9800", lw=0.8)
m_ticks = ["2023-01-01", "2023-07-01", "2024-01-01", "2024-07-01", "2025-01-01", "2025-07-01", "2026-01-01",
           "2026-07-01", "2027-01-01", "2027-07-01", "2028-01-01"]
m_labels = ["2023", "Jul", "2024", "Jul", "2025", "Jul", "2026", "Jul", "2027", "Jul", "2028"]
xaxis(ob, dn(m_ticks), m_labels, [])
ftext(829, 367, "0", fontsize=5, color=TXT, ha="left")
ftext(829, 372.5, "0", fontsize=5, color=TXT, ha="left")
ftext(829, 397, "-1 T", fontsize=5, color=TXT, ha="left")
legend(435, 216.5, [("JASMY / TetherUS · 1M · Binance", TXT), ("O0.00715 H0.00742 L0.00566 C0.00631", "#e0475a"),
                    ("−0.00081 (−11.42%)", "#e0475a"), ("Vol 6.69B", "#e0475a")])
legend(435, 221.5, [("HA-MS", TXT), ("0.01443", "#8a8a30"), ("∅", TXT), ("0.02543", "#f59b00"), ("∅", TXT),
                    ("∅", TXT), ("0.01539", "#7744aa"), ("0.05883", "#7744aa"), ("0.00668", "#26a6ba"),
                    ("0.00000", "#7744aa"), ("0.01354", "#7744aa"), ("0.00000", "#e040e0"),
                    ("0.00000", "#a040e0")])
legend(435, 355, [("StochRSI", TXT), ("16.62", "#4f7fe0"), ("36.15", "#e0586c")])
legend(435, 360, [("TC", TXT), ("-0", "#e0586c")])
legend(435, 374, [("OBV", TXT), ("-606.18", TXT), ("-750.818", TXT), ("-750.818", "#26c6da"),
                  ("-750.848", "#ff9800"), ("0", TXT), ("0", TXT)])

# footer
ftext(5, 423.5, "TV", fontsize=7, color="white", fontweight="heavy", ha="left")
ftext(17, 423.5, "TradingView", fontsize=6.5, color="white", fontweight="bold", ha="left")

fig.savefig("out.png", dpi=100, facecolor=fig.get_facecolor())
